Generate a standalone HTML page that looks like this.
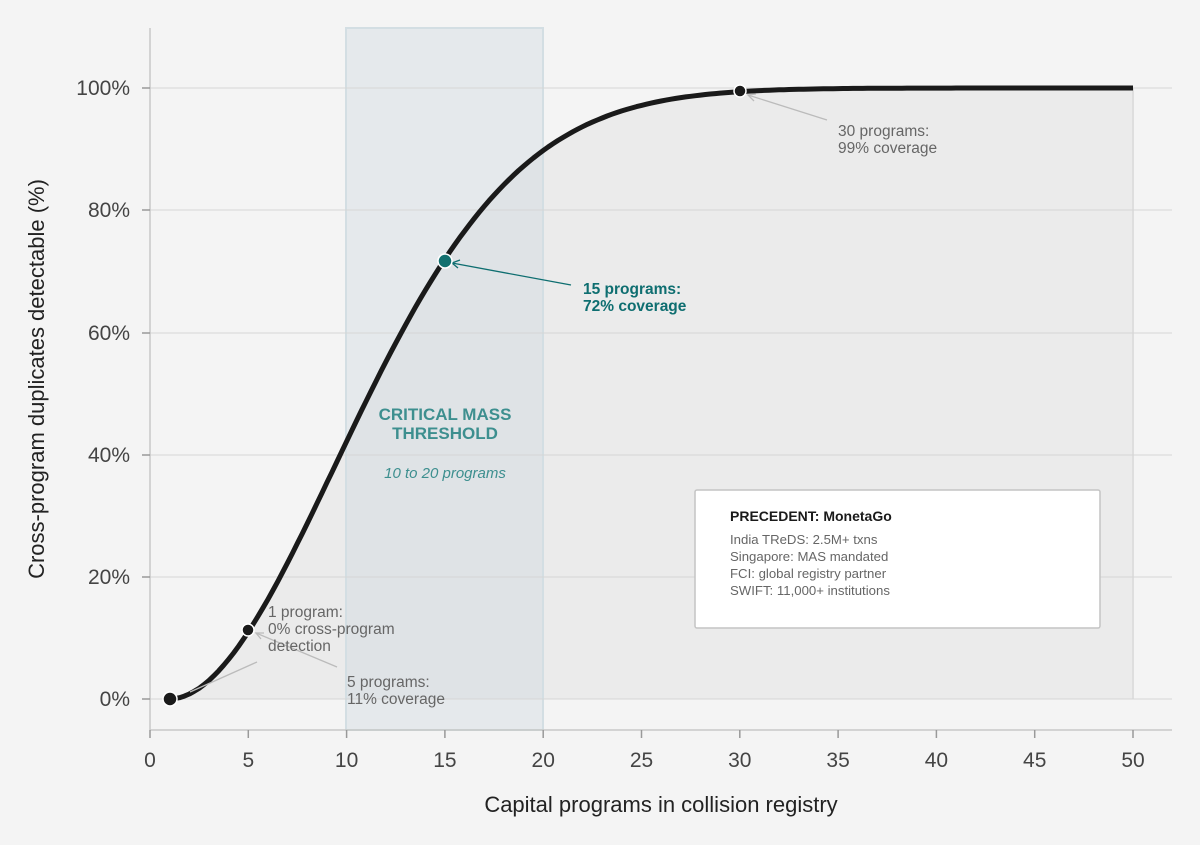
<!DOCTYPE html>
<html><head><meta charset="utf-8"><style>
html,body{margin:0;padding:0;background:#f4f4f4;}
svg{display:block;font-family:"Liberation Sans",sans-serif;}
</style></head><body>
<svg id="s" width="1200" height="845" viewBox="0 0 1200 845">
<rect width="1200" height="845" fill="#f4f4f4"/>
<path id="fill" fill="#ebebeb" stroke="none"/>
<line x1="1133" y1="88" x2="1133" y2="699" stroke="#dedede" stroke-width="2"/>
<rect x="346" y="28" width="197" height="702" fill="#c9d6dd" fill-opacity="0.36" stroke="#d3dee3" stroke-width="2"/>
<g stroke="#d6d6d6" stroke-width="1">
<line x1="150" y1="699" x2="1172" y2="699"/><line x1="150" y1="577" x2="1172" y2="577"/>
<line x1="150" y1="455" x2="1172" y2="455"/><line x1="150" y1="333" x2="1172" y2="333"/>
<line x1="150" y1="210" x2="1172" y2="210"/><line x1="150" y1="88" x2="1172" y2="88"/>
</g>
<g stroke="#c8c8c8" stroke-width="1.5">
<line x1="150" y1="28" x2="150" y2="730"/><line x1="150" y1="730" x2="1172" y2="730"/>
</g>
<g id="ticks" stroke="#999" stroke-width="1.5"></g>
<g font-size="21" fill="#444" text-anchor="end">
<text x="130" y="706">0%</text><text x="130" y="584">20%</text><text x="130" y="462">40%</text>
<text x="130" y="340">60%</text><text x="130" y="217">80%</text><text x="130" y="95">100%</text>
</g>
<g id="xl" font-size="21" fill="#444" text-anchor="middle"></g>
<text x="661" y="812" font-size="22" fill="#222" text-anchor="middle">Capital programs in collision registry</text>
<text transform="translate(44,379) rotate(-90)" font-size="22" fill="#222" text-anchor="middle">Cross-program duplicates detectable (%)</text>
<path id="curve" fill="none" stroke="#1a1a1a" stroke-width="5" stroke-linejoin="round"/>
<g stroke="#bbb" stroke-width="1.3" fill="none">
<line x1="190" y1="692" x2="257" y2="662"/>
<line x1="337" y1="667" x2="256" y2="633"/><path d="M264 633 L256 633 L261 639"/>
<line x1="827" y1="120" x2="748" y2="95"/><path d="M756 94 L748 95 L754 101"/>
</g>
<g stroke="#0e6e70" stroke-width="1.3" fill="none">
<line x1="571" y1="285" x2="452" y2="263"/><path d="M460 260 L452 263 L458 268"/>
</g>
<circle cx="170" cy="699" r="7" fill="#1a1a1a" stroke="#fff" stroke-width="1.5"/>
<circle cx="248" cy="630" r="6" fill="#1a1a1a" stroke="#fff" stroke-width="1.5"/>
<circle cx="445" cy="261" r="7" fill="#12706f" stroke="#fff" stroke-width="1.5"/>
<circle cx="740" cy="91" r="6" fill="#1a1a1a" stroke="#fff" stroke-width="1.5"/>
<g font-size="15.5" fill="#666">
<text x="268" y="617">1 program:</text><text x="268" y="634">0% cross-program</text><text x="268" y="651">detection</text>
<text x="347" y="687">5 programs:</text><text x="347" y="704">11% coverage</text>
<text x="838" y="136">30 programs:</text><text x="838" y="153">99% coverage</text>
</g>
<g font-size="15.5" fill="#0e6e70" font-weight="bold">
<text x="583" y="294">15 programs:</text><text x="583" y="311">72% coverage</text>
</g>
<g fill="#3d8f8f" text-anchor="middle">
<text x="445" y="420" font-size="17" font-weight="bold">CRITICAL MASS</text>
<text x="445" y="439" font-size="17" font-weight="bold">THRESHOLD</text>
<text x="445" y="478" font-size="15" font-style="italic">10 to 20 programs</text>
</g>
<rect x="695" y="490" width="405" height="138" rx="2" fill="#fff" stroke="#c4c4c4" stroke-width="1.5"/>
<text x="730" y="521" font-size="14" font-weight="bold" fill="#1a1a1a">PRECEDENT: MonetaGo</text>
<g font-size="13.2" fill="#666">
<text x="730" y="544">India TReDS: 2.5M+ txns</text><text x="730" y="561">Singapore: MAS mandated</text>
<text x="730" y="578">FCI: global registry partner</text><text x="730" y="595">SWIFT: 11,000+ institutions</text>
</g>
</svg>
<script>
var X=function(n){return 150+n*19.66},Y=function(p){return 699-p*6.11};
var pts=[];
for(var n=1;n<=50.001;n+=0.25){var p=100*(1-Math.exp(-Math.pow((n-1)/12.34,1.909)));pts.push(X(n).toFixed(1)+","+Y(p).toFixed(1));}
document.getElementById("curve").setAttribute("d","M"+pts.join(" L"));
document.getElementById("fill").setAttribute("d","M"+pts.join(" L")+" L"+X(50)+",699 L"+X(1)+",699 Z");
var t="",l="";
for(var i=0;i<=50;i+=5){t+='<line x1="'+X(i)+'" y1="730" x2="'+X(i)+'" y2="738"/>';l+='<text x="'+X(i)+'" y="767">'+i+'</text>';}
[699,577,455,333,210,88].forEach(function(y){t+='<line x1="142" y1="'+y+'" x2="150" y2="'+y+'"/>';});
document.getElementById("ticks").innerHTML=t;document.getElementById("xl").innerHTML=l;
</script>
</body></html>
